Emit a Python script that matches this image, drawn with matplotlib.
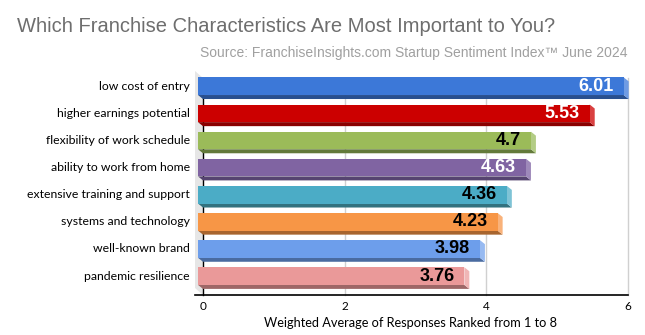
import matplotlib
matplotlib.use("Agg")
import matplotlib.pyplot as plt
from matplotlib.patches import Polygon
import numpy as np

categories = [
    "low cost of entry",
    "higher earnings potential",
    "flexibility of work schedule",
    "ability to work from home",
    "extensive training and support",
    "systems and technology",
    "well-known brand",
    "pandemic resilience",
]
values = [6.01, 5.53, 4.7, 4.63, 4.36, 4.23, 3.98, 3.76]
value_labels = ["6.01", "5.53", "4.7", "4.63", "4.36", "4.23", "3.98", "3.76"]
label_colors = ["white", "white", "black", "white", "black", "black", "black", "black"]
front_colors = ["#3C78D8", "#CC0000", "#9BBB59", "#8064A2", "#4BACC6", "#F79646", "#6D9EEB", "#EA9999"]
bottom_colors = ["#284F8F", "#8A0000", "#637A3A", "#564470", "#32727F", "#A8652E", "#4A6BA0", "#9E6767"]
side_colors = ["#6F9BE3", "#D94040", "#B3CC85", "#9E89BA", "#7EC3D6", "#F9B27A", "#97BAF1", "#F0B6B6"]
xticks = [0, 2, 4, 6]

W, H, DPI = 645, 335, 100
fig = plt.figure(figsize=(W / DPI, H / DPI), dpi=DPI)
ax_l, ax_r, ax_t, ax_b = 203, 628, 78, 295
ax = fig.add_axes([ax_l / W, (H - ax_b) / H, (ax_r - ax_l) / W, (ax_b - ax_t) / H])
ax.set_xlim(0, 6)
ax.set_ylim(7.5, -0.5)
for s in ax.spines.values():
    s.set_visible(False)
ax.set_xticks([])
ax.set_yticks([])

# pixel -> data unit conversions for the 3D depth offset
px_x = 6 / (ax_r - ax_l)
px_y = 8 / (ax_b - ax_t)
DX = 5 * px_x
DY = 4 * px_y
bar_h = 0.65

# left wall
wall = Polygon([(-8 * px_x, -0.5 - 7 * px_y), (0, -0.5), (0, 7.5), (-8 * px_x, 7.5 - 7 * px_y)],
               closed=True, facecolor="#E6E6E6", edgecolor="none", clip_on=False, zorder=0)
ax.add_patch(wall)

# gridlines on the back plane
for xv in xticks[1:]:
    ax.plot([xv, xv], [-0.5, 7.5], color="#D0D0D0", lw=1, zorder=0.5, clip_on=False)
ax.plot([0, 0], [0, 7.5], color="black", lw=1, zorder=0.6, clip_on=False)
ax.plot([-8 * px_x, 6], [7.5, 7.5], color="black", lw=1.2, zorder=0.6, clip_on=False)

for i, v in enumerate(values):
    back_top = i - bar_h / 2 - 0.05
    back_bot = back_top + bar_h
    f_top = back_top - DY
    f_bot = back_bot - DY
    x0f, x1f = -DX, v - DX
    # bottom face
    ax.add_patch(Polygon([(x0f, f_bot), (x1f, f_bot), (v, back_bot), (0, back_bot)],
                         closed=True, facecolor=bottom_colors[i], edgecolor="none",
                         clip_on=False, zorder=2))
    # right side face
    ax.add_patch(Polygon([(x1f, f_top), (v, back_top), (v, back_bot), (x1f, f_bot)],
                         closed=True, facecolor=side_colors[i], edgecolor="none",
                         clip_on=False, zorder=2))
    # front face
    ax.barh(f_top + bar_h / 2, v, left=x0f, height=bar_h, color=front_colors[i],
            edgecolor="none", zorder=3, clip_on=False)
    ax.text(x1f - 10 * px_x, f_top + bar_h / 2, value_labels[i], ha="right", va="center",
            fontsize=13, fontweight="bold", family="Liberation Sans",
            color=label_colors[i], zorder=4)
    ax.text(-13 * px_x, f_top + bar_h / 2, categories[i], ha="right", va="center",
            fontsize=8.8, family="Lato", color="black")

for xv in xticks:
    ax.text(xv, 7.5 + 12 * px_y, str(xv), ha="center", va="center",
            fontsize=8.5, family="Lato", color="black")

ax.text(2.93, 7.5 + 28 * px_y, "Weighted Average of Responses Ranked from 1 to 8",
        ha="center", va="center", fontsize=9.2, family="Lato", color="black")

fig.text(17 / W, 1 - 27 / H, "Which Franchise Characteristics Are Most Important to You?",
         ha="left", va="center", fontsize=14.5, family="Liberation Sans", color="#6E6E6E")
fig.text(628 / W, 1 - 53 / H, "Source: FranchiseInsights.com Startup Sentiment Index\u2122 June 2024",
         ha="right", va="center", fontsize=10, family="Liberation Sans", color="#A0A0A0")

fig.savefig("out.png", dpi=DPI)
